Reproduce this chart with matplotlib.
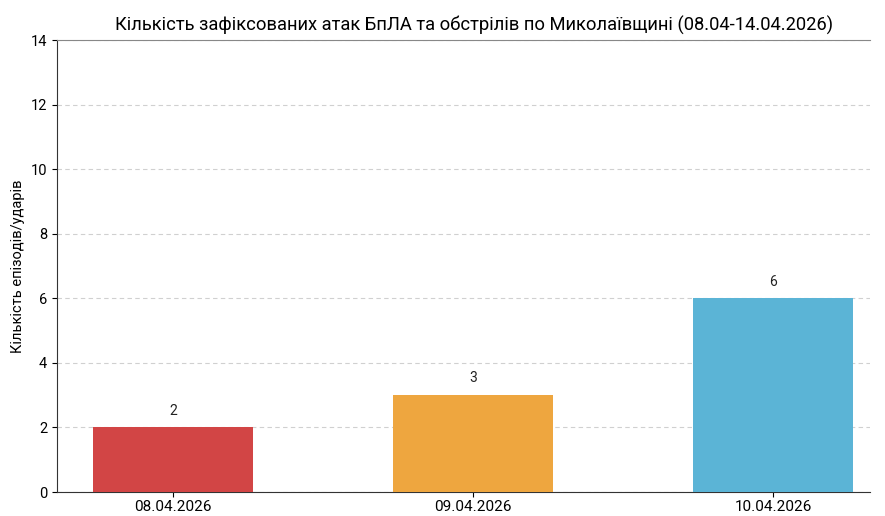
import matplotlib
matplotlib.use("Agg")
import matplotlib.pyplot as plt

plt.rcParams['font.family'] = ['Roboto', 'DejaVu Sans']

dates = ["08.04.2026", "09.04.2026", "10.04.2026"]
counts = [2, 3, 6]
colors = ["#d24545", "#eea63f", "#5bb4d6"]

title = "Кількість зафіксованих атак БпЛА та обстрілів по Миколаївщині (08.04-14.04.2026)"
ylabel = "Кількість епізодів/ударів"

fig = plt.figure(figsize=(8.85, 5.16), dpi=100)
ax = fig.add_axes([57/885, 1 - 492/516, (870-57)/885, (492-40)/516])

x = list(range(len(dates)))
bars = ax.bar(x, counts, width=0.535, color=colors, zorder=3)
for xi, v in zip(x, counts):
    ax.text(xi, v + 0.3, str(v), ha='center', va='bottom', fontsize=10, color='#222222')

ax.set_xticks(x)
ax.set_xticklabels(dates, fontsize=11)
ax.set_xlim(-0.387, 2.323)
ax.set_ylim(0, 14)
ax.set_yticks(range(0, 15, 2))
ax.tick_params(axis='y', labelsize=10.5)
ax.tick_params(axis='x', pad=2)
ax.set_ylabel(ylabel, fontsize=10.5)
ax.set_title(title, fontsize=13.2, pad=7, x=0.513)
ax.yaxis.grid(True, linestyle=(0, (4, 3)), color='#d0d0d0', linewidth=0.8, zorder=0)
ax.set_axisbelow(True)
ax.spines['right'].set_visible(False)
ax.spines['top'].set_color('#888888')
ax.spines['left'].set_color('#333333')
ax.spines['bottom'].set_color('#333333')

fig.savefig("out.png", dpi=100)
